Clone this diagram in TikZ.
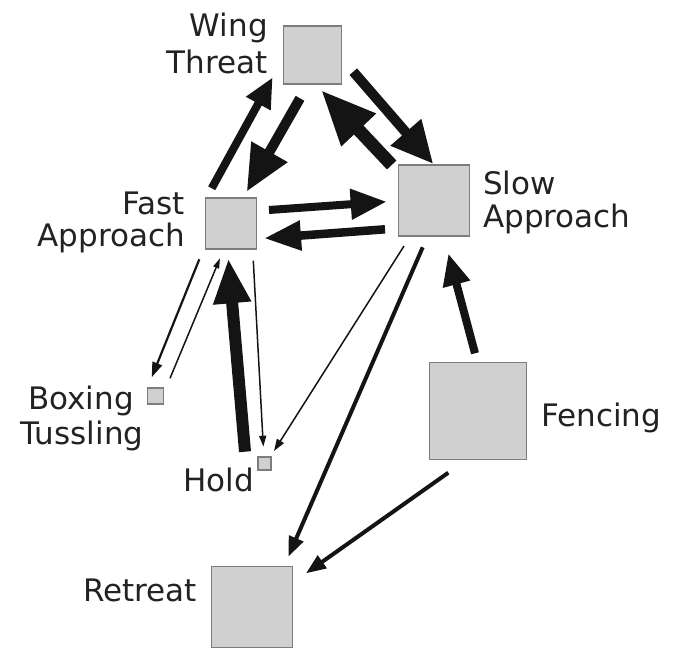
\documentclass[tikz,border=0pt]{standalone}
\usepackage{fontspec}
\setmainfont{DejaVu Sans}
\usetikzlibrary{arrows.meta,calc}
\definecolor{boxfill}{RGB}{208,208,208}
\definecolor{boxline}{RGB}{125,125,125}
\definecolor{txt}{RGB}{34,34,34}
\tikzset{
  box/.style={draw=boxline, fill=boxfill, line width=1.3pt, inner sep=0pt, minimum size=#1},
  lbl/.style={inner sep=0pt, text=txt, font=\fontsize{31}{34}\selectfont},
  conn/.style args={#1/#2/#3}{line width=#1pt, draw=black!92, -{Triangle[length=#2pt,width=#3pt]}},
}
\begin{document}
\begin{tikzpicture}[x=1pt,y=-1pt]
\useasboundingbox (0,0) rectangle (675,652);
% boxes
\node[box=58pt]   (wing)    at (312.5,55)  {};
\node[box=51pt]   (fast)    at (231,223.5) {};
\node[box=71pt]   (slow)    at (434,200.5) {};
\node[box=16pt]   (boxing)  at (155.5,396) {};
\node[box=13pt]   (hold)    at (264.5,463.5) {};
\node[box=97pt]   (fencing) at (478,411)   {};
\node[box=81.5pt] (retreat) at (252,607)   {};
% labels
\node[lbl, anchor=base east] (wingL1) at (268,37)    {Wing};
\node[lbl, anchor=base east] (wingL2) at (268,73.3)  {Threat};
\node[lbl, anchor=base east] (fastL1) at (185,215)   {Fast};
\node[lbl, anchor=base east] (fastL2) at (185,247)   {Approach};
\node[lbl, anchor=base west] (slowL1) at (483,195)   {Slow};
\node[lbl, anchor=base west] (slowL2) at (483,228)   {Approach};
\node[lbl, anchor=base] (boxL1) at (81,409.3)  {Boxing};
\node[lbl, anchor=base] (boxL2) at (82,444)    {Tussling};
\node[lbl, anchor=base west] (holdL) at (183,491.7)  {Hold};
\node[lbl, anchor=base west] (fenL)  at (541,426.7)  {Fencing};
\node[lbl, anchor=base east] (retL)  at (197,601.7)  {Retreat};
% connectors
\draw[conn=8/30/26]   ($(fast)+(-19.3,-35.2)$) -- ($(wing)+(-39.8,22.3)$);
\draw[conn=10/46/39]  ($(wing)+(-12.5,43.3)$)  -- ($(fast)+(15.7,-31.8)$);
\draw[conn=13/55/44]  ($(slow)+(-42.3,-35.5)$) -- ($(wing)+(8.5,35)$);
\draw[conn=10/42/38]  ($(wing)+(40.8,16.7)$)   -- ($(slow)+(-0.7,-36.5)$);
\draw[conn=8/36/29]   ($(fast)+(38,-13.5)$)    -- ($(slow)+(-47.3,1.2)$);
\draw[conn=8.5/37/28] ($(slow)+(-49,28.8)$)    -- ($(fast)+(33,14.8)$);
\draw[conn=2.2/15/10] ($(fast)+(-31.7,35.8)$)  -- ($(boxing)+(-3.8,-18.7)$);
\draw[conn=1.5/10/6]  ($(boxing)+(14.5,-17.7)$) -- ($(fast)+(-11,34.8)$);
\draw[conn=12/45/35]  ($(hold)+(-19.5,-11.8)$) -- ($(fast)+(-2.7,34.8)$);
\draw[conn=1.5/11/7]  ($(fast)+(22.3,37.2)$)   -- ($(hold)+(-1.2,-16.8)$);
\draw[conn=1.5/12/8]  ($(slow)+(-30,45.5)$)    -- ($(hold)+(9.5,-12.5)$);
\draw[conn=4/20/15]   ($(slow)+(-11.3,46.8)$)  -- ($(retreat)+(36.3,-50.3)$);
\draw[conn=8/32/26]   ($(fencing)+(-3,-57.7)$) -- ($(slow)+(14.3,52.8)$);
\draw[conn=4/20/15]   ($(fencing)+(-29.7,61.7)$) -- ($(retreat)+(54,-33.7)$);
\end{tikzpicture}
\end{document}
